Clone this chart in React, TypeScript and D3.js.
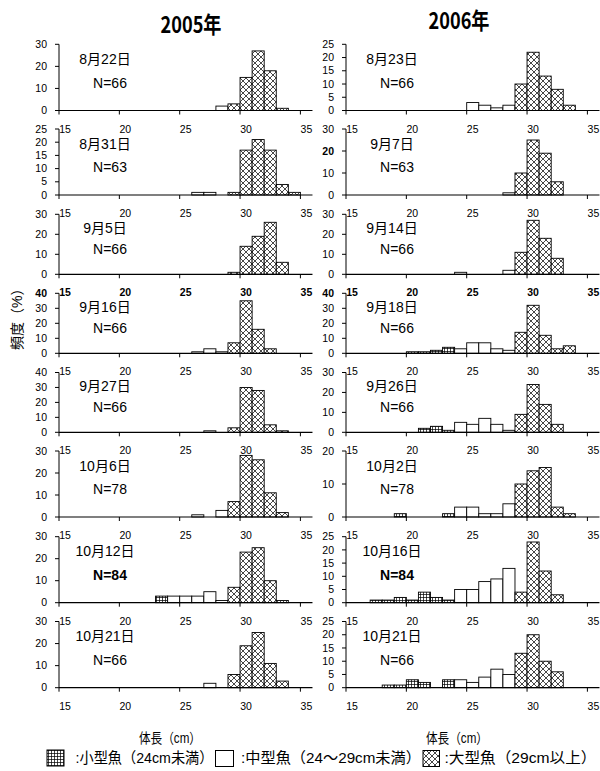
import React from 'react';
import * as d3 from 'd3';

// bin starts (cm), each bin 1 cm wide
const lengthBins = d3.range(15, 35);
const xTicks = [15, 20, 25, 30, 35];

const dates2005 = ['8月22日', '8月31日', '9月5日', '9月16日', '9月27日', '10月6日', '10月12日', '10月21日'];
const dates2006 = ['8月23日', '9月7日', '9月14日', '9月18日', '9月26日', '10月2日', '10月16日', '10月21日'];
const n2005 = [66, 63, 66, 66, 66, 78, 84, 66];
const n2006 = [66, 63, 66, 66, 66, 78, 84, 66];
const yMax2005 = [30, 25, 30, 40, 40, 30, 30, 30];
const yMax2006 = [25, 30, 30, 40, 30, 20, 25, 25];

// frequencies (%) for bins 15..34
const f2005_0822 = [0,0,0,0,0, 0,0,0,0,0, 0,0,0,2,3, 15,27,18,1,0];
const f2005_0831 = [0,0,0,0,0, 0,0,0,0,0, 0,1,1,0,1, 17,21,17,4,1];
const f2005_0905 = [0,0,0,0,0, 0,0,0,0,0, 0,0,0,0,1, 14,19,26,6,0];
const f2005_0916 = [0,0,0,0,0, 0,0,0,0,0, 0,1,3,1,7, 35,16,3,0,0];
const f2005_0927 = [0,0,0,0,0, 0,0,0,0,0, 0,0,1,0,3, 30,28,5,1,0];
const f2005_1006 = [0,0,0,0,0, 0,0,0,0,0, 0,1,0,3,7, 28,26,11,2,0];
const f2005_1012 = [0,0,0,0,0, 0,0,0,3,3, 3,3,5,1,7, 23,25,10,1,0];
const f2005_1021 = [0,0,0,0,0, 0,0,0,0,0, 0,0,2,0,6, 19,25,11,3,0];

const f2006_0823 = [0,0,0,0,0, 0,0,0,0,0, 3,2,1,2,10, 22,13,8,2,0];
const f2006_0907 = [0,0,0,0,0, 0,0,0,0,0, 0,0,0,1,10, 25,19,6,0,0];
const f2006_0914 = [0,0,0,0,0, 0,0,0,0,1, 0,0,0,2,11, 27,18,8,0,0];
const f2006_0918 = [0,0,0,0,0, 1,1,2,4,3, 7,7,3,2,14, 32,12,3,5,0];
const f2006_0926 = [0,0,0,0,0, 0,2,3,1,5, 4,7,4,1,9, 24,14,4,0,0];
const f2006_1002 = [0,0,0,0,1, 0,0,0,1,3, 3,1,1,4,10, 14,15,3,1,0];
const f2006_1016 = [0,0,1,1,2, 1,4,2,1,5, 5,8,9,13,4, 23,12,3,0,0];
const f2006_1021 = [0,0,0,1,1, 3,2,0,3,3, 2,4,7,5,13, 20,10,6,0,0];

const values2005 = [f2005_0822, f2005_0831, f2005_0905, f2005_0916, f2005_0927, f2005_1006, f2005_1012, f2005_1021];
const values2006 = [f2006_0823, f2006_0907, f2006_0914, f2006_0918, f2006_0926, f2006_1002, f2006_1016, f2006_1021];

const years = ['2005年', '2006年'];
const legendLabels = [':小型魚（24cm未満）', ':中型魚（24～29cm未満）', ':大型魚（29cm以上）'];

// layout
const ROW_TOP = [44.3, 129, 214.3, 293.3, 372.5, 451, 536.7, 621.5];
const ROW_BOT = [110.5, 195, 274.3, 353.3, 432.3, 517, 602.7, 687.7];
const COL_X0 = [59, 346];
const CM = 12.07;
const FONT = "'Liberation Sans','Noto Sans CJK JP',sans-serif";

const boldYTick: Record<string, boolean> = { '1-1-20': true, '0-3-40': true, '1-3-40': true };
const boldXRow = 2;
const boldNRow = 6;

function fillFor(bin: number) {
  if (bin < 24) return 'url(#gridPat)';
  if (bin < 29) return '#fff';
  return 'url(#hatchPat)';
}

function Panel({ col, row, values, yMax, date, n }: any) {
  const x0 = COL_X0[col];
  const x = d3.scaleLinear().domain([15, 36]).range([x0, x0 + 21 * CM]);
  const top = ROW_TOP[row];
  const bottom = ROW_BOT[row];
  const h = bottom - top;
  const y = d3.scaleLinear().domain([0, yMax]).range([bottom, top]);
  const step = yMax % 10 === 0 ? 10 : 5;
  const yTicks = d3.range(0, yMax + 0.01, step);
  return (
    <g>
      {lengthBins.map((b, i) =>
        values[i] > 0 ? (
          <rect key={b} x={x(b)} y={y(values[i])} width={x(b + 1) - x(b)} height={bottom - y(values[i])}
            fill={fillFor(b)} stroke="#000" strokeWidth={0.9} />
        ) : null
      )}
      <line x1={x0} x2={x0} y1={top} y2={bottom} stroke="#000" strokeWidth={1} />
      <line x1={x(15)} x2={x(36)} y1={bottom} y2={bottom} stroke="#000" strokeWidth={1.2} />
      {yTicks.map((t) => (
        <g key={t}>
          <line x1={x0 - 4} x2={x0} y1={y(t)} y2={y(t)} stroke="#000" />
          <text x={x0 - 12} y={y(t) + 3.6} textAnchor="end" fontSize={10.5}
            fontWeight={boldYTick[`${col}-${row}-${t}`] ? 'bold' : 'normal'}>{t}</text>
        </g>
      ))}
      {xTicks.map((t) => (
        <g key={t}>
          <line x1={x(t)} x2={x(t)} y1={bottom} y2={bottom + 4} stroke="#000" />
          <text x={x(t) + 6} y={bottom + 22} textAnchor="middle" fontSize={10.5}
            fontWeight={row === boldXRow ? 'bold' : 'normal'}>{t}</text>
        </g>
      ))}
      <text x={x0 + 46} y={top + 0.22 * h + 5} textAnchor="middle" fontSize={14}>{date}</text>
      <text x={x0 + 51} y={top + 0.58 * h + 5} textAnchor="middle" fontSize={14}
        fontWeight={row === boldNRow ? 'bold' : 'normal'}>{`N=${n}`}</text>
    </g>
  );
}

export default function App() {
  return (
    <svg width={600} height={771} style={{ position: 'absolute', left: 0, top: 0, background: '#fff' }} fontFamily={FONT}>
      <defs>
        <pattern id="hatchPat" patternUnits="userSpaceOnUse" width={6} height={6}>
          <rect width={6} height={6} fill="#fff" />
          <path d="M-1,-1L7,7M7,-1L-1,7" stroke="#333" strokeWidth={0.9} />
        </pattern>
        <pattern id="gridPat" patternUnits="userSpaceOnUse" width={3} height={3}>
          <rect width={3} height={3} fill="#fff" />
          <path d="M0,0.4H3M0.4,0V3" stroke="#000" strokeWidth={0.8} />
        </pattern>
      </defs>
      <rect width={600} height={771} fill="#fff" />
      <text x={191} y={33} textAnchor="middle" fontSize={23} fontFamily="'Noto Sans CJK JP',sans-serif" fontWeight="bold"
        textLength={61} lengthAdjust="spacingAndGlyphs">{years[0]}</text>
      <text x={459} y={29} textAnchor="middle" fontSize={23} fontFamily="'Noto Sans CJK JP',sans-serif" fontWeight="bold"
        textLength={61} lengthAdjust="spacingAndGlyphs">{years[1]}</text>
      {values2005.map((v, r) => (
        <Panel key={'a' + r} col={0} row={r} values={v} yMax={yMax2005[r]} date={dates2005[r]} n={n2005[r]} />
      ))}
      {values2006.map((v, r) => (
        <Panel key={'b' + r} col={1} row={r} values={v} yMax={yMax2006[r]} date={dates2006[r]} n={n2006[r]} />
      ))}
      <text transform="translate(22,350) rotate(-90)" fontSize={14}>頻度（%）</text>
      <text x={170} y={743} textAnchor="middle" fontSize={14} textLength={62} lengthAdjust="spacingAndGlyphs">体長（cm）</text>
      <text x={457} y={743} textAnchor="middle" fontSize={14} textLength={62} lengthAdjust="spacingAndGlyphs">体長（cm）</text>
      <rect x={47} y={750} width={17} height={16} fill="url(#gridPat)" stroke="#000" />
      <text x={75.5} y={763} fontSize={15} textLength={138} lengthAdjust="spacingAndGlyphs">{legendLabels[0]}</text>
      <rect x={215.5} y={750.5} width={18} height={16} fill="#fff" stroke="#000" />
      <text x={241} y={763} fontSize={15} textLength={180} lengthAdjust="spacingAndGlyphs">{legendLabels[1]}</text>
      <rect x={423} y={750.5} width={16.5} height={16} fill="url(#hatchPat)" stroke="#000" />
      <text x={444.5} y={763} fontSize={15} textLength={152} lengthAdjust="spacingAndGlyphs">{legendLabels[2]}</text>
    </svg>
  );
}
